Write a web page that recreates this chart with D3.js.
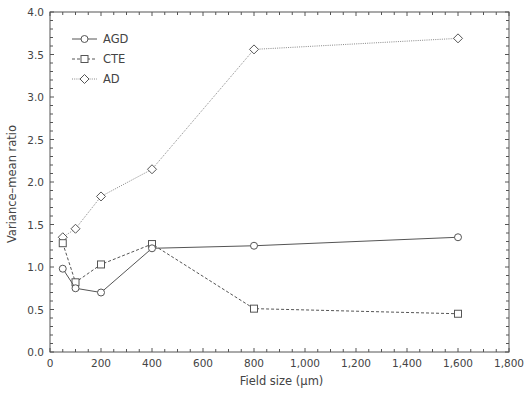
<!DOCTYPE html>
<html>
<head>
<meta charset="utf-8">
<script src="https://cdn.jsdelivr.net/npm/d3@7"></script>
<style>
  body { margin: 0; background: #fff; }
  text { font-family: "DejaVu Sans", sans-serif; fill: #444; }
</style>
</head>
<body>
<svg id="chart" width="529" height="393"></svg>
<script>
const fieldSizes = [50, 100, 200, 400, 800, 1600];
const agd = [0.98, 0.75, 0.70, 1.22, 1.25, 1.35];
const cte = [1.28, 0.82, 1.03, 1.27, 0.51, 0.45];
const ad  = [1.35, 1.45, 1.83, 2.15, 3.56, 3.69];
const seriesNames = ["AGD", "CTE", "AD"];
const xTicks = [0, 200, 400, 600, 800, 1000, 1200, 1400, 1600, 1800];
const yTicks = [0.0, 0.5, 1.0, 1.5, 2.0, 2.5, 3.0, 3.5, 4.0];
const xTitle = "Field size (\u00b5m)";
const yTitle = "Variance\u2013mean ratio";

const svg = d3.select("#chart");
const m = {left: 50, right: 20, top: 12, bottom: 41};
const W = 529, H = 393;
const x = d3.scaleLinear().domain([0, 1800]).range([m.left, W - m.right]);
const y = d3.scaleLinear().domain([0, 4]).range([H - m.bottom, m.top]);
const axisColor = "#555";

// frame
svg.append("rect")
  .attr("x", x(0)).attr("y", y(4))
  .attr("width", x(1800) - x(0)).attr("height", y(0) - y(4))
  .attr("fill", "none").attr("stroke", axisColor).attr("stroke-width", 1);

const xMinor = d3.range(0, 1801, 50);
const yMinor = d3.range(0, 41, 1).map(d => d / 10);
const tickG = svg.append("g").attr("stroke", axisColor).attr("stroke-width", 1);
xMinor.forEach(v => {
  const major = v % 200 === 0;
  const len = major ? 4 : 3;
  tickG.append("line").attr("x1", x(v)).attr("x2", x(v)).attr("y1", y(0)).attr("y2", y(0) - len);
  tickG.append("line").attr("x1", x(v)).attr("x2", x(v)).attr("y1", y(4)).attr("y2", y(4) + len);
});
yMinor.forEach(v => {
  const major = Math.abs(v * 2 - Math.round(v * 2)) < 1e-6;
  const len = major ? 4 : 3;
  tickG.append("line").attr("x1", x(0)).attr("x2", x(0) + len).attr("y1", y(v)).attr("y2", y(v));
  tickG.append("line").attr("x1", x(1800)).attr("x2", x(1800) - len).attr("y1", y(v)).attr("y2", y(v));
});

// tick labels
const fmtX = d3.format(",");
svg.append("g").selectAll("text").data(xTicks).join("text")
  .attr("x", d => x(d)).attr("y", y(0) + 15)
  .attr("text-anchor", "middle").attr("font-size", 10.5)
  .text(d => fmtX(d));
svg.append("g").selectAll("text").data(yTicks).join("text")
  .attr("x", x(0) - 6).attr("y", d => y(d) + 4)
  .attr("text-anchor", "end").attr("font-size", 10.5)
  .text(d => d.toFixed(1));

// titles
svg.append("text").attr("x", (x(0) + x(1800)) / 2 + 2).attr("y", 385)
  .attr("text-anchor", "middle").attr("font-size", 11.5).text(xTitle);
svg.append("text").attr("transform", `translate(16, ${(y(0) + y(4)) / 2 + 2}) rotate(-90)`)
  .attr("text-anchor", "middle").attr("font-size", 11.5).text(yTitle);

// series
const styles = [
  {dash: null, color: "#555", marker: "circle"},
  {dash: "3,2", color: "#555", marker: "square"},
  {dash: "1,1.2", color: "#888", marker: "diamond"}
];
const allData = [agd, cte, ad];
const line = d3.line().x(d => x(d[0])).y(d => y(d[1]));

function drawMarker(g, type, cx, cy) {
  if (type === "circle") {
    g.append("circle").attr("cx", cx).attr("cy", cy).attr("r", 3.5)
      .attr("fill", "#fff").attr("stroke", "#555").attr("stroke-width", 1);
  } else if (type === "square") {
    g.append("rect").attr("x", cx - 3.5).attr("y", cy - 3.5).attr("width", 7).attr("height", 7)
      .attr("fill", "#fff").attr("stroke", "#555").attr("stroke-width", 1);
  } else {
    const r = 4.5;
    g.append("path").attr("d", `M${cx},${cy - r}L${cx + r},${cy}L${cx},${cy + r}L${cx - r},${cy}Z`)
      .attr("fill", "#fff").attr("stroke", "#555").attr("stroke-width", 1);
  }
}

// draw in order AD, CTE, AGD so AGD lines sit on top
[2, 1, 0].forEach(i => {
  const pts = fieldSizes.map((f, j) => [f, allData[i][j]]);
  const g = svg.append("g");
  g.append("path").attr("d", line(pts)).attr("fill", "none")
    .attr("stroke", styles[i].color).attr("stroke-width", 1)
    .attr("stroke-dasharray", styles[i].dash);
  pts.forEach(p => drawMarker(g, styles[i].marker, x(p[0]), y(p[1])));
});

// legend
const legY = [39, 59, 79];
seriesNames.forEach((name, i) => {
  const g = svg.append("g");
  g.append("line").attr("x1", 72).attr("x2", 97).attr("y1", legY[i]).attr("y2", legY[i])
    .attr("stroke", styles[i].color).attr("stroke-width", 1)
    .attr("stroke-dasharray", styles[i].dash);
  drawMarker(g, styles[i].marker, 84.5, legY[i]);
  g.append("text").attr("x", 103).attr("y", legY[i] + 4).attr("font-size", 11.5).text(name);
});
</script>
</body>
</html>
